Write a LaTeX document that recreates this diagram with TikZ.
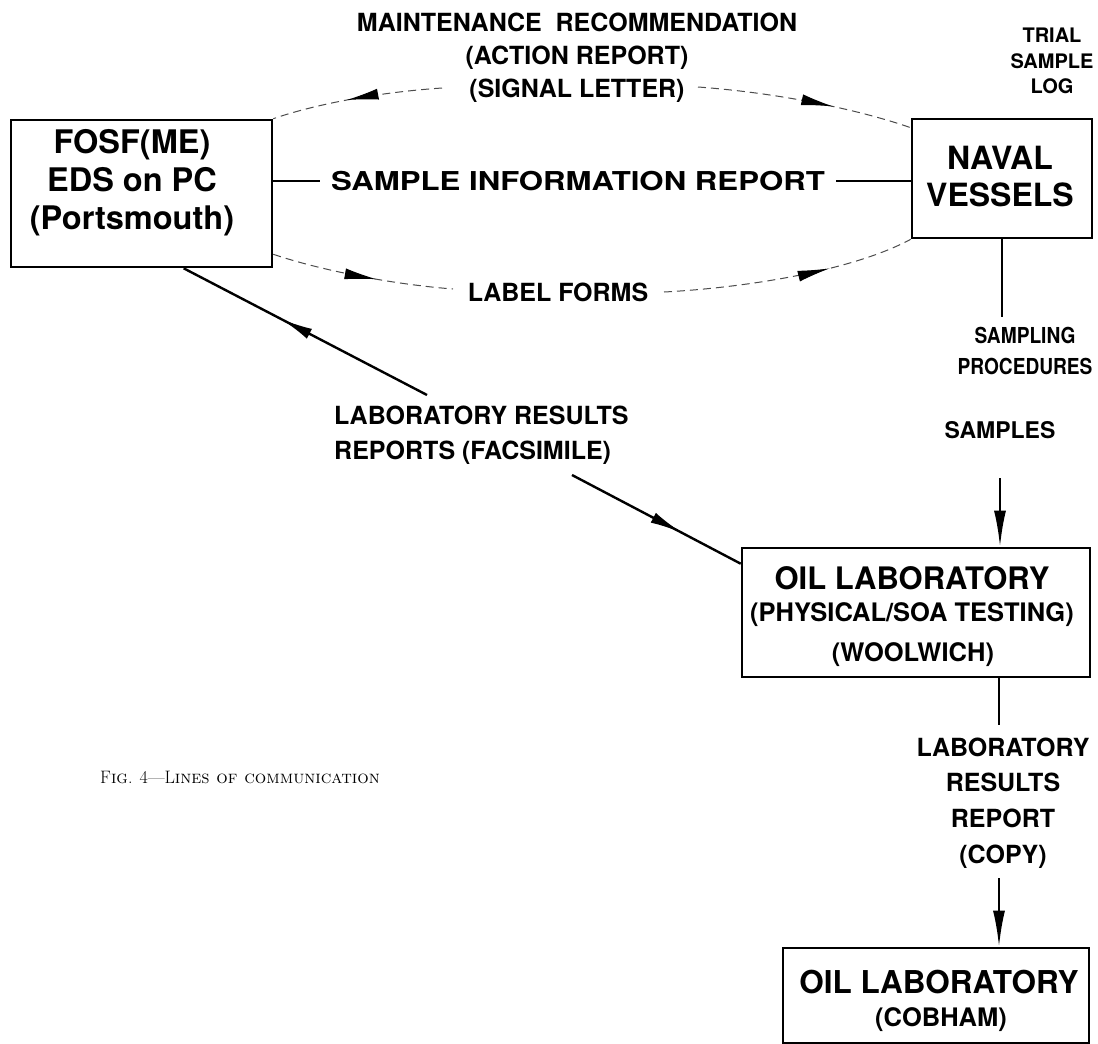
\documentclass[tikz,border=0pt]{standalone}
\usepackage{fontspec}
\newfontfamily\hv{TeX Gyre Heros}
\usetikzlibrary{arrows.meta,decorations.markings,calc}
\begin{document}
\begin{tikzpicture}[x=1pt,y=-1pt,
  box/.style={draw, line width=2.6pt, inner sep=0pt},
  lbl/.style={font=\hv\bfseries\fontsize{25}{33}\selectfont, align=center, inner sep=1pt},
  sml/.style={font=\hv\bfseries\fontsize{20}{25.5}\selectfont, align=center, inner sep=1pt},
  big/.style={font=\hv\bfseries\fontsize{32.5}{38}\selectfont, align=center, inner sep=1pt},
  conn/.style={line width=2.4pt},
  dsh/.style={line width=1pt, black!70, dash pattern=on 8pt off 5pt},
  midarrow/.style={postaction={decorate}, decoration={markings, mark=at position #1 with {\pgfsetdash{}{0pt}\pgfsetcolor{black}\arrow{Latex[length=32pt,width=11pt]}}}},
  endtip/.style={-{Latex[length=36pt,width=12pt]}}
]
\useasboundingbox (0,0) rectangle (1098,1044);
\fill[white] (0,0) rectangle (1098,1044);

% boxes
\node[box, minimum width=261pt, minimum height=147pt] (fosf) at (141.5,193.5) {};
\node[box, minimum width=180pt, minimum height=119pt] (naval) at (1002,178.5) {};
\node[box, minimum width=348pt, minimum height=129pt] (wool) at (916,612.5) {};
\node[box, minimum width=306pt, minimum height=95pt] (cob) at (936,995.5) {};

% box texts
\node[big] (fosft) at (132,183) {FOSF(ME)\\EDS on PC\\(Portsmouth)};
\node[big, font=\hv\bfseries\fontsize{32}{37}\selectfont] (navalt) at (1000,177) {NAVAL\\VESSELS};
\node[lbl, font=\hv\bfseries\fontsize{31}{35}\selectfont] (woolt1) at (912,578) {OIL LABORATORY};
\node[lbl, font=\hv\bfseries\fontsize{25.5}{30}\selectfont] (woolt2) at (912,615) {(PHYSICAL/SOA TESTING)};
\node[lbl, font=\hv\bfseries\fontsize{25.5}{30}\selectfont] (woolt3) at (913,655) {(WOOLWICH)};
\node[lbl, font=\hv\bfseries\fontsize{31.5}{35}\selectfont] (cob1) at (939,982) {OIL LABORATORY};
\node[lbl, font=\hv\bfseries\fontsize{25.5}{30}\selectfont] (cob2) at (941,1020) {(COBHAM)};

% labels
\node[lbl] (mr) at (577,58) {MAINTENANCE\ \ RECOMMENDATION\\(ACTION REPORT)\\(SIGNAL LETTER)};
\node[sml] (trial) at (1052,61) {TRIAL\\SAMPLE\\LOG};
\node[lbl, font=\hv\bfseries\fontsize{26}{33}\selectfont] (sir) at (578,181) {\scalebox{1.2}[1]{SAMPLE INFORMATION REPORT}};
\node[lbl] (lf) at (558,292) {LABEL FORMS};
\node[sml, font=\hv\bfseries\fontsize{22}{31}\selectfont] (samp) at (1025,351) {\scalebox{0.87}[1]{SAMPLING}\\\scalebox{0.87}[1]{PROCEDURES}};
\node[sml, font=\hv\bfseries\fontsize{23}{28}\selectfont] (samples) at (1000,430) {SAMPLES};
\node[lbl, align=left, anchor=west, font=\hv\bfseries\fontsize{25}{35}\selectfont] (lrr) at (333,435.5) {LABORATORY RESULTS\\REPORTS (FACSIMILE)};
\node[lbl, font=\hv\bfseries\fontsize{25}{35.7}\selectfont] (copy) at (1003,803) {LABORATORY\\RESULTS\\REPORT\\(COPY)};

% caption
\node[anchor=west, inner sep=0pt, font=\fontsize{18}{21}\selectfont] (cap) at (100,777) {F\textsc{ig}. 4---L\textsc{ines of communication}};

% coordinates for free ends
\coordinate (a1) at (442,88);
\coordinate (b1) at (698,87);
\coordinate (c1) at (453,289);
\coordinate (d1) at (664,292);
\coordinate (e1) at (427,395);
\coordinate (e2) at (572,475);
\coordinate (ns) at (1002,317);
\coordinate (sa) at (1000,478);
\coordinate (ws) at (999,677);
\coordinate (wc) at (999,725);
\coordinate (cs) at (999,878);

% dashed curves
\draw[dsh, midarrow=0.56] (a1) .. controls (370,93) and (310,106) .. (fosf.north east);
\draw[dsh, midarrow=0.63] (b1) .. controls (780,93) and (860,110) .. ([yshift=-10pt]naval.north west);
\draw[dsh, midarrow=0.58] ([yshift=14pt]fosf.south east) .. controls (320,270) and (390,284) .. (c1);
\draw[dsh, midarrow=0.66] (d1) .. controls (740,288) and (850,272) .. (naval.south west);

% solid connectors
\draw[conn] (sir.west -| fosf.east) -- ([xshift=-10pt]sir.west);
\draw[conn] ([xshift=10pt]sir.east) -- (sir.east -| naval.west);
\draw[conn] (naval.south -| ns) -- (ns);
\draw[conn, endtip] (sa) -- (sa |- wool.north);
\draw[conn] (wool.south -| ws) -- (wc);
\draw[conn, endtip] (cs) -- (cs |- cob.north);
\draw[conn, midarrow=0.6] (e1) -- ([xshift=174pt]fosf.south west);
\draw[conn, midarrow=0.65] (e2) -- ([yshift=-17pt]wool.north west);
\end{tikzpicture}
\end{document}
